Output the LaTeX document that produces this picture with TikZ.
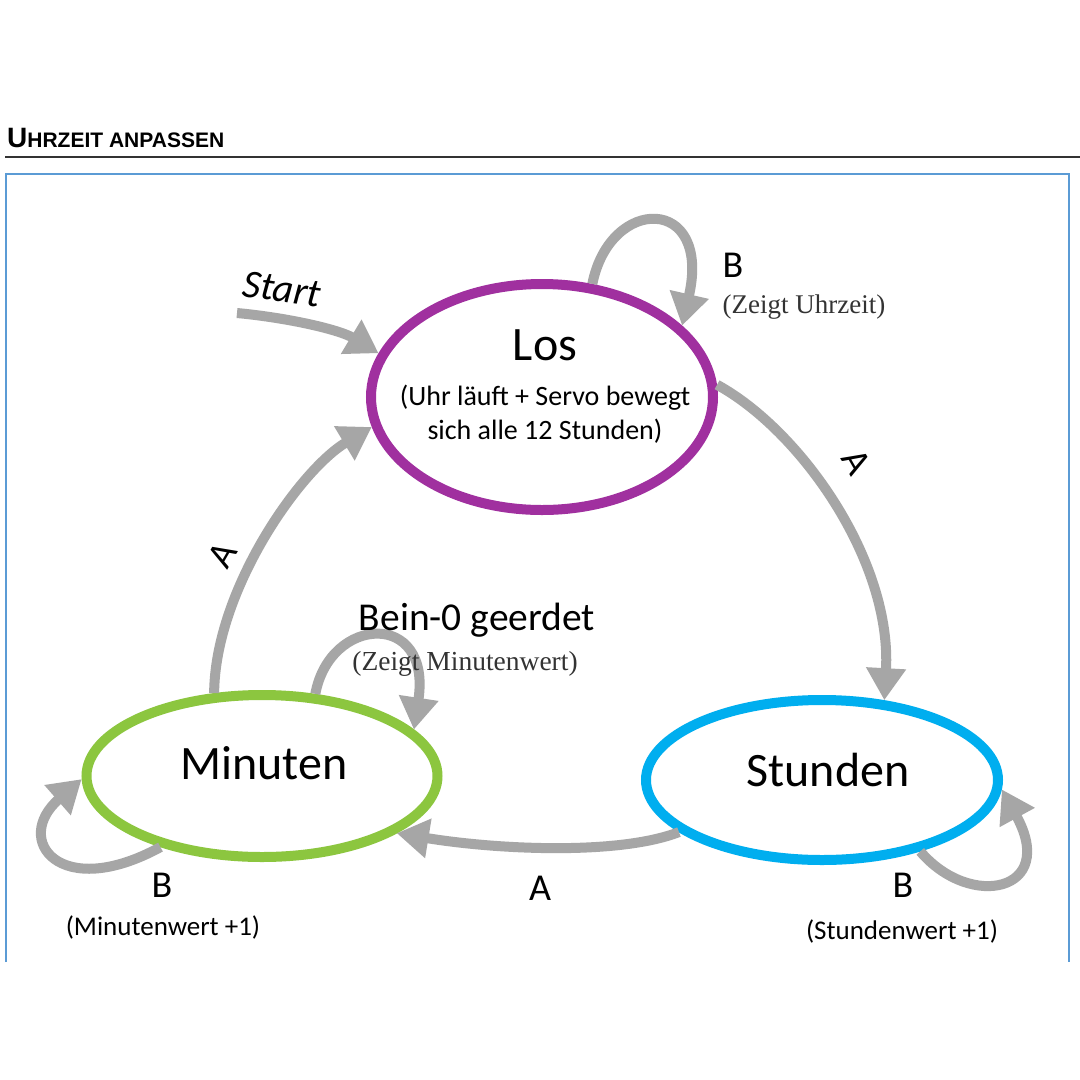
\documentclass[tikz,border=0pt]{standalone}
\usepackage{fontspec}
\setmainfont{Carlito}
\newfontfamily\serifx{Liberation Serif}
\newfontfamily\titlefont{Liberation Sans}
\usetikzlibrary{arrows.meta,shapes.geometric}
\definecolor{arrowgray}{HTML}{A6A6A6}
\definecolor{lospurple}{HTML}{A0309F}
\definecolor{mingreen}{HTML}{8CC63F}
\definecolor{stdblue}{HTML}{00AEEF}
\definecolor{framblue}{HTML}{5B9BD5}
\tikzset{
  state/.style={ellipse,draw,line width=10pt,inner sep=0pt},
  trans/.style={draw=arrowgray,line width=10pt,-{Triangle[length=32pt,width=38pt]}},
  big/.style={font=\fontsize{48}{52}\selectfont,inner sep=0pt},
  lab/.style={font=\fontsize{38}{40}\selectfont,inner sep=0pt},
  small/.style={font=\fontsize{27}{32}\selectfont,inner sep=0pt},
  ser/.style={font=\fontsize{27}{30}\serifx,inner sep=0pt,text=black!80},
}
\begin{document}
\begin{tikzpicture}[x=1pt,y=-1pt]
\useasboundingbox[fill=white] (0,0) rectangle (1080,1080);
% header
\node[anchor=base west,inner sep=0pt,font=\titlefont\bfseries] (title) at (7,147)
  {\fontsize{28}{30}\selectfont U\fontsize{21}{24}\selectfont HRZEIT ANPASSEN};
\draw[line width=2pt,black!80] (5,157) -- (1080,157);
\draw[line width=2pt,framblue] (6,962) -- (6,174) -- (1069,174) -- (1069,962);
% states
\node[state,draw=lospurple,minimum width=342pt,minimum height=226pt] (los) at (542,397) {};
\node[state,draw=mingreen,minimum width=351pt,minimum height=162pt] (min) at (262,776) {};
\node[state,draw=stdblue,minimum width=352pt,minimum height=160pt] (std) at (822,780) {};
% state texts
\node[big] (lostxt) at (545,345) {Los};
\node[small,font=\fontsize{28}{34}\selectfont,align=center] (losdesc) at (545,414) {(Uhr läuft + Servo bewegt\\sich alle 12 Stunden)};
\node[big] (mintxt) at (264,763) {Minuten};
\node[big] (stdtxt) at (828,770) {Stunden};
% start
\coordinate (s0) at (237,313);
\node[lab,font=\fontsize{40}{44}\itshape,rotate=-8] (start) at (282,289) {Start};
\draw[trans] (s0) .. controls (290,318) and (340,330) .. (los.165);
% Los loop
\draw[trans] (los.66) .. controls (610,195) and (712,195) .. (los.27);
\node[lab] (b1) at (733,265) {B};
\node[ser] (b1d) at (804,307) {(Zeigt Uhrzeit)};
% Los -> Stunden
\draw[trans] (los.4) .. controls (800,430) and (892,560) .. (std.52);
\node[lab,rotate=-60] (a1) at (857,462) {A};
% Stunden -> Minuten
\draw[trans] (std.200) .. controls (620,855) and (500,850) .. (min.337);
\node[lab] (a2) at (540,888) {A};
% Minuten -> Los
\draw[trans] (min.120) .. controls (215,590) and (300,470) .. (los.190);
\node[lab,rotate=60] (a3) at (222,555) {A};
% Minuten top loop
\draw[trans] (min.57) .. controls (330,615) and (432,610) .. (min.17);
\node[lab,font=\fontsize{39.5}{42}\selectfont] (bein) at (477,620) {Bein-0 geerdet};
\node[ser,font=\fontsize{27.5}{30}\serifx] (beind) at (465,664) {(Zeigt Minutenwert)};
% Minuten B loop
\draw[trans] (min.215) .. controls (60,902) and (12,840) .. (min.181);
\node[lab] (b2) at (162,885) {B};
\node[small] (b2d) at (163,927) {(Minutenwert +1)};
% Stunden B loop
\draw[trans] (std.-36) .. controls (970,910) and (1058,892) .. (std.-3);
\node[lab] (b3) at (903,885) {B};
\node[small] (b3d) at (902,931) {(Stundenwert +1)};
\end{tikzpicture}
\end{document}
